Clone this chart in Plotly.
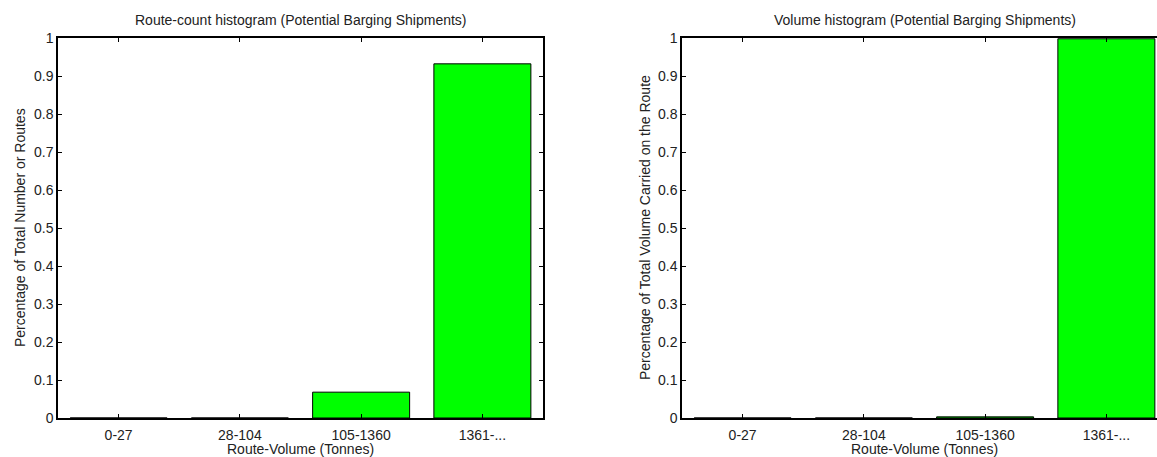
import plotly.graph_objects as go

categories = ["0-27", "28-104", "105-1360", "1361-..."]
route_count_share = [0.0, 0.0, 0.068, 0.932]
volume_share = [0.0, 0.0, 0.003, 0.998]
y_ticks = [0, 0.1, 0.2, 0.3, 0.4, 0.5, 0.6, 0.7, 0.8, 0.9, 1]
y_tick_text = ["0", "0.1", "0.2", "0.3", "0.4", "0.5", "0.6", "0.7", "0.8", "0.9", "1"]

W, H = 1157, 457
FONT = "Liberation Sans, Arial, Helvetica, sans-serif"
FS = 14

def px(x):
    return x / W

def py(y):
    return 1 - y / H

x_pos = [1, 2, 3, 4]

fig = go.Figure()
fig.add_trace(go.Bar(x=x_pos, y=route_count_share, width=0.8,
                     marker=dict(color="#00ff00", line=dict(color="black", width=1)),
                     xaxis="x", yaxis="y", showlegend=False))
fig.add_trace(go.Bar(x=x_pos, y=volume_share, width=0.8,
                     marker=dict(color="#00ff00", line=dict(color="black", width=1)),
                     xaxis="x2", yaxis="y2", showlegend=False))

left_x0, left_x1 = 58, 543
right_x0 = 682
unit = (left_x1 - left_x0) / 4.0
right_range_end = 0.5 + (W - right_x0) / unit
top, bottom = 38, 418

xcommon = dict(tickmode="array", tickvals=x_pos, ticktext=categories,
               ticks="inside", ticklen=4, tickcolor="black", showline=True,
               linecolor="black", linewidth=1.5, showgrid=False, zeroline=False,
               automargin=False, ticklabelstandoff=3,
               tickfont=dict(family=FONT, size=FS, color="#222"), fixedrange=True)
ycommon = dict(tickmode="array", tickvals=y_ticks, ticktext=y_tick_text,
               ticks="inside", ticklen=4, tickcolor="black", showline=True,
               linecolor="black", linewidth=1.5, showgrid=False, zeroline=False,
               automargin=False, range=[0, 1],
               tickfont=dict(family=FONT, size=FS, color="#222"), fixedrange=True)

fig.update_layout(
    template="none",
    width=W, height=H, autosize=False,
    margin=dict(l=0, r=0, t=0, b=0, pad=0),
    paper_bgcolor="white", plot_bgcolor="white",
    font=dict(family=FONT, size=FS, color="#222"),
    xaxis=dict(domain=[px(left_x0), px(left_x1)], range=[0.5, 4.5], mirror="ticks",
               anchor="y", **xcommon),
    yaxis=dict(domain=[py(bottom), py(top)], mirror="ticks", anchor="x", **ycommon),
    xaxis2=dict(domain=[px(right_x0), 1.0], range=[0.5, right_range_end], mirror="ticks",
                anchor="y2", **xcommon),
    yaxis2=dict(domain=[py(bottom), py(top)], mirror=False, anchor="x2", **ycommon),
    bargap=0.2,
    annotations=[
        dict(text="Route-count histogram (Potential Barging Shipments)", x=px((left_x0 + left_x1) / 2),
             y=py(20), xref="paper", yref="paper", showarrow=False, xanchor="center", yanchor="middle",
             font=dict(family=FONT, size=FS)),
        dict(text="Volume histogram (Potential Barging Shipments)", x=px((right_x0 + right_x0 + 485) / 2),
             y=py(20), xref="paper", yref="paper", showarrow=False, xanchor="center", yanchor="middle",
             font=dict(family=FONT, size=FS)),
        dict(text="Route-Volume (Tonnes)", x=px((left_x0 + left_x1) / 2), y=py(449),
             xref="paper", yref="paper", showarrow=False, xanchor="center", yanchor="middle",
             font=dict(family=FONT, size=FS)),
        dict(text="Route-Volume (Tonnes)", x=px((right_x0 + right_x0 + 485) / 2), y=py(449),
             xref="paper", yref="paper", showarrow=False, xanchor="center", yanchor="middle",
             font=dict(family=FONT, size=FS)),
        dict(text="Percentage of Total Number or Routes", x=px(20), y=py((top + bottom) / 2),
             xref="paper", yref="paper", showarrow=False, xanchor="center", yanchor="middle",
             textangle=-90, font=dict(family=FONT, size=FS)),
        dict(text="Percentage of Total Volume Carried on the Route", x=px(645), y=py((top + bottom) / 2),
             xref="paper", yref="paper", showarrow=False, xanchor="center", yanchor="middle",
             textangle=-90, font=dict(family=FONT, size=FS)),
    ],
)

fig.write_html("out.html")
